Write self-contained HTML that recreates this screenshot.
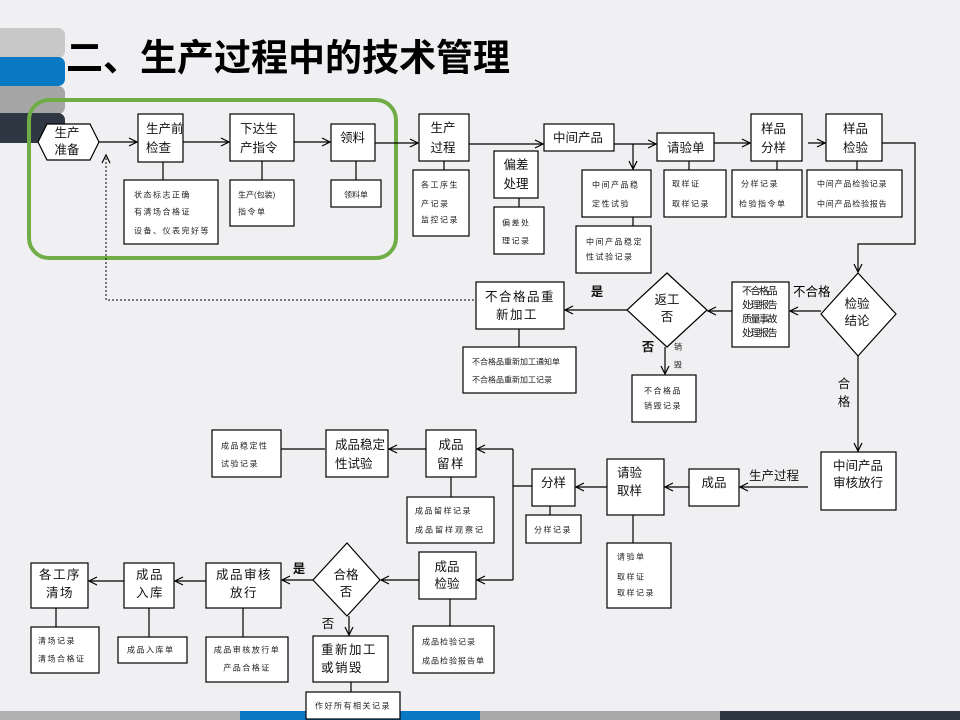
<!DOCTYPE html>
<html><head><meta charset="utf-8">
<style>
html,body{margin:0;padding:0;background:#f0f0f2;width:960px;height:720px;overflow:hidden}
svg{display:block}
text{font-family:"Liberation Sans","Noto Sans CJK SC",sans-serif;fill:#111;dominant-baseline:central}
.m{font-size:12.5px}
.ms{font-size:12.5px;letter-spacing:1.5px}
.s{font-size:8px;fill:#222}
.ss{font-size:8px;fill:#222;letter-spacing:1.5px}
.t{font-size:10px;letter-spacing:-1.5px}
.b{font-size:12.5px;font-weight:bold}
.box{fill:#fff;stroke:#000;stroke-width:1.2}
.ln{stroke:#000;stroke-width:1.2;fill:none}
.ar{stroke:#000;stroke-width:1.2;fill:none;marker-end:url(#a)}
</style></head>
<body>
<svg width="960" height="720" viewBox="0 0 960 720">
<defs>
<marker id="a" markerUnits="userSpaceOnUse" markerWidth="12" markerHeight="12" refX="10" refY="6" orient="auto">
<path d="M2,2 L10,6 L2,10" fill="none" stroke="#000" stroke-width="1.2"/>
</marker>
</defs>
<rect x="0" y="0" width="960" height="720" fill="#f0f0f2"/>
<!-- header bars -->
<rect x="-20" y="28" width="85" height="30" rx="7" fill="#c8c8c8"/>
<rect x="-20" y="57" width="85" height="29" rx="7" fill="#0a79c3"/>
<rect x="-20" y="86" width="85" height="28" rx="7" fill="#a6a6a6"/>
<rect x="-20" y="113" width="85" height="30" rx="7" fill="#2e3742"/>
<!-- bottom bar -->
<rect x="0" y="711" width="240" height="9" fill="#b0b0b0"/>
<rect x="240" y="711" width="240" height="9" fill="#0a79c3"/>
<rect x="480" y="711" width="240" height="9" fill="#a8a8a8"/>
<rect x="720" y="711" width="240" height="9" fill="#2e3742"/>
<!-- title -->
<text x="66" y="58" style="font-size:37px;font-weight:bold;fill:#000">二、生产过程中的技术管理</text>
<!-- green box -->
<rect x="29" y="100" width="367" height="158" rx="20" fill="none" stroke="#70ad47" stroke-width="4"/>

<!-- connectors -->
<path class="ar" d="M99,142 L137,142"/>
<path class="ln" d="M163,162 L163,180"/>
<path class="ar" d="M183,142 L229,142"/>
<path class="ln" d="M262,161 L262,180"/>
<path class="ar" d="M294,142 L330,142"/>
<path class="ln" d="M356,161 L356,180"/>
<path class="ar" d="M375,143 L418,143"/>
<path class="ln" d="M444,161 L444,170"/>
<path class="ln" d="M519,198 L519,207"/>
<path class="ar" d="M469,144 L543,144"/>
<path class="ar" d="M614,144 L656,144"/>
<path class="ar" d="M633,144 L633,169"/>
<path class="ln" d="M633,217 L633,226"/>
<path class="ln" d="M689,161 L689,170"/>
<path class="ar" d="M714,143 L750,143"/>
<path class="ln" d="M777,161 L777,170"/>
<path class="ar" d="M808,143 L825,143"/>
<path class="ln" d="M857,161 L857,170"/>
<path class="ar" d="M882,143 L915,143 L915,244 L858,244 L858,272"/>
<path class="ar" d="M821,311 L790,311"/>
<path class="ar" d="M732,311 L708,311"/>
<path class="ar" d="M627,310 L565,310"/>
<path class="ln" d="M519,329 L519,347"/>
<path class="ar" d="M665,347 L665,374"/>
<path class="ar" d="M858,356 L858,451"/>
<path class="ar" d="M808,487 L740,487"/>
<path class="ar" d="M689,487 L665,487"/>
<path class="ln" d="M633,515 L633,543"/>
<path class="ar" d="M607,487 L576,487"/>
<path class="ln" d="M550,506 L550,515"/>
<path class="ln" d="M532,486 L513,486"/>
<path class="ln" d="M513,449 L513,580"/>
<path class="ar" d="M513,449 L477,449"/>
<path class="ar" d="M513,580 L477,580"/>
<path class="ln" d="M451,477 L451,497"/>
<path class="ar" d="M426,449 L389,449"/>
<path class="ln" d="M325,449 L281,449"/>
<path class="ln" d="M450,599 L450,626"/>
<path class="ar" d="M419,580 L381,580"/>
<path class="ar" d="M313,580 L282,580"/>
<path class="ar" d="M349,616 L349,635"/>
<path class="ln" d="M351,682 L351,692"/>
<path class="ln" d="M243,608 L243,637"/>
<path class="ar" d="M206,581 L175,581"/>
<path class="ln" d="M149,608 L149,637"/>
<path class="ar" d="M124,581 L89,581"/>
<path class="ln" d="M56,608 L56,627"/>
<path d="M474,300 L106,300 L106,155" fill="none" stroke="#000" stroke-width="1" stroke-dasharray="2,2" marker-end="url(#a)"/>

<!-- Row 1 -->
<polygon class="box" points="38,142 47,124 90,124 99,142 90,160 47,160"/>
<text class="m" x="67" y="133" text-anchor="middle">生产</text>
<text class="m" x="67" y="150" text-anchor="middle">准备</text>

<rect class="box" x="138" y="114" width="45" height="48"/>
<text class="m" x="146" y="129">生产前</text>
<text class="m" x="146" y="148">检查</text>
<rect class="box" x="124" y="180" width="94" height="64"/>
<text class="ss" x="134" y="195">状态标志正确</text>
<text class="ss" x="134" y="212">有清场合格证</text>
<text class="ss" x="134" y="231">设备、仪表完好等</text>

<rect class="box" x="230" y="114" width="64" height="47"/>
<text class="m" x="240" y="129">下达生</text>
<text class="m" x="240" y="148">产指令</text>
<rect class="box" x="230" y="180" width="64" height="46"/>
<text class="s" x="238" y="195">生产(包装)</text>
<text class="ss" x="238" y="212">指令单</text>

<rect class="box" x="331" y="124" width="44" height="37"/>
<text class="m" x="340" y="138">领料</text>
<rect class="box" x="331" y="180" width="50" height="27"/>
<text class="s" x="356" y="195" text-anchor="middle">领料单</text>

<rect class="box" x="419" y="114" width="50" height="47"/>
<text class="m" x="443" y="128" text-anchor="middle">生产</text>
<text class="m" x="443" y="148" text-anchor="middle">过程</text>
<rect class="box" x="413" y="170" width="56" height="66"/>
<text class="ss" x="421" y="185">各工序生</text>
<text class="ss" x="421" y="204">产记录</text>
<text class="ss" x="421" y="220">监控记录</text>

<rect class="box" x="494" y="151" width="44" height="47"/>
<text class="m" x="516" y="165" text-anchor="middle">偏差</text>
<text class="m" x="516" y="184" text-anchor="middle">处理</text>
<rect class="box" x="494" y="207" width="50" height="47"/>
<text class="ss" x="502" y="223">偏差处</text>
<text class="ss" x="502" y="241">理记录</text>

<rect class="box" x="544" y="124" width="70" height="27"/>
<text class="m" x="553" y="138">中间产品</text>
<rect class="box" x="582" y="170" width="69" height="47"/>
<text class="ss" x="592" y="185">中间产品稳</text>
<text class="ss" x="592" y="204">定性试验</text>
<rect class="box" x="576" y="226" width="75" height="47"/>
<text class="ss" x="586" y="242">中间产品稳定</text>
<text class="ss" x="586" y="257">性试验记录</text>

<rect class="box" x="657" y="133" width="57" height="28"/>
<text class="m" x="667" y="148">请验单</text>
<rect class="box" x="664" y="170" width="62" height="47"/>
<text class="ss" x="672" y="184">取样证</text>
<text class="ss" x="672" y="204">取样记录</text>

<rect class="box" x="751" y="114" width="51" height="47"/>
<text class="m" x="761" y="129">样品</text>
<text class="m" x="761" y="148">分样</text>
<rect class="box" x="732" y="170" width="70" height="47"/>
<text class="ss" x="741" y="184">分样记录</text>
<text class="ss" x="739" y="204">检验指令单</text>

<rect class="box" x="826" y="114" width="56" height="47"/>
<text class="m" x="843" y="129">样品</text>
<text class="m" x="843" y="148">检验</text>
<rect class="box" x="807" y="170" width="95" height="47"/>
<text class="s" x="817" y="184" style="letter-spacing:0.8px">中间产品检验记录</text>
<text class="s" x="817" y="204" style="letter-spacing:0.8px">中间产品检验报告</text>

<!-- Row 2 -->
<polygon class="box" points="858,273 896,314 858,356 821,314"/>
<text class="m" x="857" y="304" text-anchor="middle">检验</text>
<text class="m" x="857" y="321" text-anchor="middle">结论</text>
<text class="m" x="793" y="292" style="fill:#000">不合格</text>

<rect class="box" x="732" y="282" width="57" height="65"/>
<text class="t" x="742" y="292">不合格品</text>
<text class="t" x="742" y="306">处理报告</text>
<text class="t" x="742" y="320">质量事故</text>
<text class="t" x="742" y="334">处理报告</text>

<polygon class="box" points="667,273 707,310 667,347 627,310"/>
<text class="m" x="667" y="300" text-anchor="middle">返工</text>
<text class="m" x="667" y="317" text-anchor="middle">否</text>
<text class="b" x="597" y="292" text-anchor="middle">是</text>
<text class="b" x="648" y="347" text-anchor="middle">否</text>
<text class="s" x="678" y="347" text-anchor="middle">销</text>
<text class="s" x="678" y="365" text-anchor="middle">毁</text>

<rect class="box" x="476" y="282" width="88" height="47"/>
<text class="ms" x="485" y="297">不合格品重</text>
<text class="ms" x="496" y="315">新加工</text>
<rect class="box" x="463" y="347" width="113" height="46"/>
<text class="s" x="472" y="362">不合格品重新加工通知单</text>
<text class="s" x="472" y="380">不合格品重新加工记录</text>

<rect class="box" x="632" y="375" width="64" height="47"/>
<text class="ss" x="663" y="391" text-anchor="middle">不合格品</text>
<text class="ss" x="663" y="406" text-anchor="middle">销毁记录</text>

<text class="m" x="844" y="384" text-anchor="middle">合</text>
<text class="m" x="844" y="402" text-anchor="middle">格</text>

<rect class="box" x="821" y="452" width="75" height="58"/>
<text class="m" x="833" y="466">中间产品</text>
<text class="m" x="833" y="483">审核放行</text>
<text class="m" x="749" y="476">生产过程</text>

<!-- Row 3 -->
<rect class="box" x="689" y="469" width="50" height="37"/>
<text class="m" x="714" y="483" text-anchor="middle">成品</text>
<rect class="box" x="607" y="459" width="57" height="56"/>
<text class="m" x="617" y="473">请验</text>
<text class="m" x="617" y="491">取样</text>
<rect class="box" x="607" y="543" width="64" height="65"/>
<text class="ss" x="617" y="557">请验单</text>
<text class="ss" x="617" y="577">取样证</text>
<text class="ss" x="617" y="593">取样记录</text>

<rect class="box" x="532" y="469" width="43" height="37"/>
<text class="m" x="541" y="483">分样</text>
<rect class="box" x="526" y="515" width="55" height="28"/>
<text class="ss" x="553" y="530" text-anchor="middle">分样记录</text>

<rect class="box" x="426" y="430" width="50" height="47"/>
<text class="m" x="451" y="445" text-anchor="middle">成品</text>
<text class="ms" x="451" y="464" text-anchor="middle">留样</text>
<rect class="box" x="407" y="497" width="87" height="46"/>
<text class="ss" x="415" y="511">成品留样记录</text>
<text class="s" x="415" y="530" style="letter-spacing:2px">成品留样观察记</text>

<rect class="box" x="326" y="430" width="62" height="47"/>
<text class="m" x="335" y="445">成品稳定</text>
<text class="m" x="335" y="464">性试验</text>
<rect class="box" x="212" y="430" width="69" height="47"/>
<text class="ss" x="221" y="446">成品稳定性</text>
<text class="ss" x="221" y="464">试验记录</text>

<!-- Row 4 -->
<rect class="box" x="419" y="552" width="57" height="47"/>
<text class="m" x="447" y="567" text-anchor="middle">成品</text>
<text class="m" x="447" y="584" text-anchor="middle">检验</text>
<rect class="box" x="413" y="626" width="81" height="47"/>
<text class="s" x="422" y="642" style="letter-spacing:1px">成品检验记录</text>
<text class="s" x="422" y="661" style="letter-spacing:1px">成品检验报告单</text>

<polygon class="box" points="347,543 380,580 347,616 313,580"/>
<text class="m" x="346" y="575" text-anchor="middle">合格</text>
<text class="m" x="346" y="592" text-anchor="middle">否</text>
<text class="b" x="299" y="569" text-anchor="middle">是</text>
<text class="m" x="328" y="624" text-anchor="middle">否</text>

<rect class="box" x="313" y="636" width="75" height="46"/>
<text class="ms" x="321" y="650">重新加工</text>
<text class="ms" x="321" y="668">或销毁</text>
<rect class="box" x="306" y="692" width="94" height="27"/>
<text class="ss" x="315" y="706">作好所有相关记录</text>

<rect class="box" x="206" y="563" width="75" height="45"/>
<text class="ms" x="244" y="575" text-anchor="middle">成品审核</text>
<text class="ms" x="244" y="593" text-anchor="middle">放行</text>
<rect class="box" x="206" y="637" width="82" height="45"/>
<text class="ss" x="247" y="650" text-anchor="middle">成品审核放行单</text>
<text class="ss" x="247" y="668" text-anchor="middle">产品合格证</text>

<rect class="box" x="124" y="563" width="50" height="45"/>
<text class="ms" x="150" y="575" text-anchor="middle">成品</text>
<text class="ms" x="150" y="593" text-anchor="middle">入库</text>
<rect class="box" x="118" y="637" width="69" height="26"/>
<text class="ss" x="127" y="650">成品入库单</text>

<rect class="box" x="31" y="563" width="57" height="45"/>
<text class="ms" x="60" y="575" text-anchor="middle">各工序</text>
<text class="ms" x="60" y="593" text-anchor="middle">清场</text>
<rect class="box" x="31" y="627" width="68" height="46"/>
<text class="ss" x="38" y="641">清场记录</text>
<text class="ss" x="38" y="659">清场合格证</text>
</svg>
</body></html>
